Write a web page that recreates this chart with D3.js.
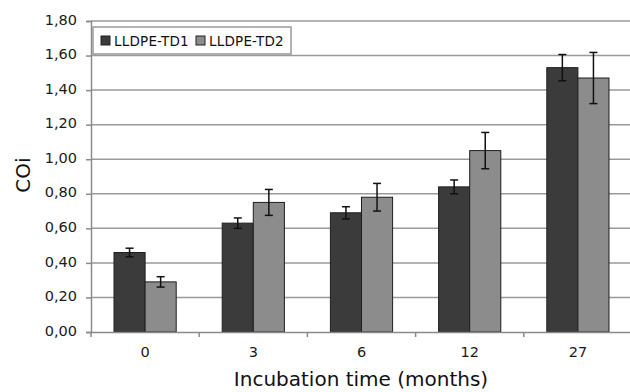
<!DOCTYPE html>
<html>
<head>
<meta charset="utf-8">
<script src="https://cdn.jsdelivr.net/npm/d3@7"></script>
<style>
  html, body { margin: 0; padding: 0; background: #fff; }
  svg { display: block; font-family: "DejaVu Sans", Verdana, sans-serif; }
</style>
</head>
<body>
<svg id="chart" width="630" height="392"></svg>
<script>
// Incubation time categories (months)
const months = ["0", "3", "6", "12", "27"];
const seriesNames = ["LLDPE-TD1", "LLDPE-TD2"];
// Carbonyl index means and standard deviations
const td1 = [0.46, 0.63, 0.69, 0.84, 1.53];
const td1Err = [0.025, 0.03, 0.035, 0.04, 0.076];
const td2 = [0.29, 0.75, 0.78, 1.05, 1.47];
const td2Err = [0.03, 0.075, 0.08, 0.105, 0.148];
const yTicks = [0, 0.2, 0.4, 0.6, 0.8, 1.0, 1.2, 1.4, 1.6, 1.8];
const colors = ["#3b3b3b", "#8c8c8c"];

const svg = d3.select("#chart");
const margin = { left: 91, right: -2, top: 21, bottom: 60 };
const W = 630, H = 392;
const plotRight = W - margin.right;
const plotBottom = H - margin.bottom;

const x = d3.scaleBand().domain(months).range([margin.left, plotRight]).paddingInner(0).paddingOuter(0);
const inner = d3.scaleBand().domain(seriesNames).range([0, x.bandwidth()]).paddingInner(0).paddingOuter(0.74);
const y = d3.scaleLinear().domain([0, 1.8]).range([plotBottom, margin.top]);

const fmt = v => d3.format(".2f")(v).replace(".", ",");

// horizontal gridlines
svg.append("g").selectAll("line").data(yTicks.slice(1)).join("line")
  .attr("x1", margin.left).attr("x2", plotRight)
  .attr("y1", d => y(d)).attr("y2", d => y(d))
  .attr("stroke", "#9a9a9a").attr("stroke-width", 1.5);

// y axis
const yAxis = svg.append("g").attr("transform", `translate(${margin.left},0)`)
  .call(d3.axisLeft(y).tickValues(yTicks).tickFormat(fmt).tickSize(5).tickPadding(9));
yAxis.select(".domain").attr("stroke", "#8a8a8a").attr("stroke-width", 1.5);
yAxis.selectAll(".tick line").attr("stroke", "#8a8a8a").attr("stroke-width", 1.5);
yAxis.selectAll(".tick text").attr("font-size", 14.5).attr("fill", "#1a1a1a")
  .attr("dy", "0.22em")
  .attr("font-family", "DejaVu Sans, Verdana, sans-serif");

// bars
const rows = months.map((m, i) => [
  { m, s: seriesNames[0], v: td1[i], e: td1Err[i] },
  { m, s: seriesNames[1], v: td2[i], e: td2Err[i] }
]).flat();

const bars = svg.append("g");
bars.selectAll("rect").data(rows).join("rect")
  .attr("x", d => x(d.m) + inner(d.s))
  .attr("y", d => y(d.v))
  .attr("width", inner.bandwidth())
  .attr("height", d => y(0) - y(d.v))
  .attr("fill", d => colors[seriesNames.indexOf(d.s)])
  .attr("stroke", "#1e1e1e").attr("stroke-width", 1);

// error bars
const eb = svg.append("g").attr("stroke", "#111").attr("stroke-width", 1.5);
const cx = d => x(d.m) + inner(d.s) + inner.bandwidth() / 2;
eb.selectAll("line.v").data(rows).join("line").attr("class", "v")
  .attr("x1", cx).attr("x2", cx)
  .attr("y1", d => y(d.v + d.e)).attr("y2", d => y(d.v - d.e));
eb.selectAll("line.t").data(rows).join("line").attr("class", "t")
  .attr("x1", d => cx(d) - 4).attr("x2", d => cx(d) + 4)
  .attr("y1", d => y(d.v + d.e)).attr("y2", d => y(d.v + d.e));
eb.selectAll("line.b").data(rows).join("line").attr("class", "b")
  .attr("x1", d => cx(d) - 4).attr("x2", d => cx(d) + 4)
  .attr("y1", d => y(d.v - d.e)).attr("y2", d => y(d.v - d.e));

// x axis with ticks between categories
const xAxis = svg.append("g").attr("transform", `translate(0,${plotBottom})`)
  .call(d3.axisBottom(x).tickSize(0).tickPadding(15));
xAxis.select(".domain").attr("stroke", "#8a8a8a").attr("stroke-width", 1.5);
xAxis.selectAll(".tick text").attr("font-size", 14.5).attr("fill", "#1a1a1a")
  .attr("font-family", "DejaVu Sans, Verdana, sans-serif");
const bounds = months.map(m => x(m)).concat([x(months[months.length - 1]) + x.bandwidth()]);
xAxis.selectAll("line.sep").data(bounds).join("line").attr("class", "sep")
  .attr("x1", d => d).attr("x2", d => d).attr("y1", 0).attr("y2", 5)
  .attr("stroke", "#8a8a8a").attr("stroke-width", 1.5);

// axis titles
svg.append("text").attr("x", 361).attr("y", 386).attr("text-anchor", "middle")
  .attr("font-size", 20).attr("fill", "#111").text("Incubation time (months)");
svg.append("text").attr("transform", "translate(30,175) rotate(-90)").attr("text-anchor", "middle")
  .attr("font-size", 20).attr("fill", "#111").text("COi");

// legend
const lg = svg.append("g").attr("transform", "translate(93,27)");
lg.append("rect").attr("width", 198).attr("height", 27).attr("fill", "#fff")
  .attr("stroke", "#999").attr("stroke-width", 1.5);
const items = lg.selectAll("g").data(seriesNames).join("g")
  .attr("transform", (d, i) => `translate(${8 + i * 95},9)`);
items.append("rect").attr("width", 9).attr("height", 9)
  .attr("fill", (d, i) => colors[i]).attr("stroke", "#222").attr("stroke-width", 1);
items.append("text").attr("x", 13).attr("y", 10).attr("font-size", 13.5)
  .attr("letter-spacing", 0.2).attr("fill", "#111").text(d => d);
</script>
</body>
</html>
